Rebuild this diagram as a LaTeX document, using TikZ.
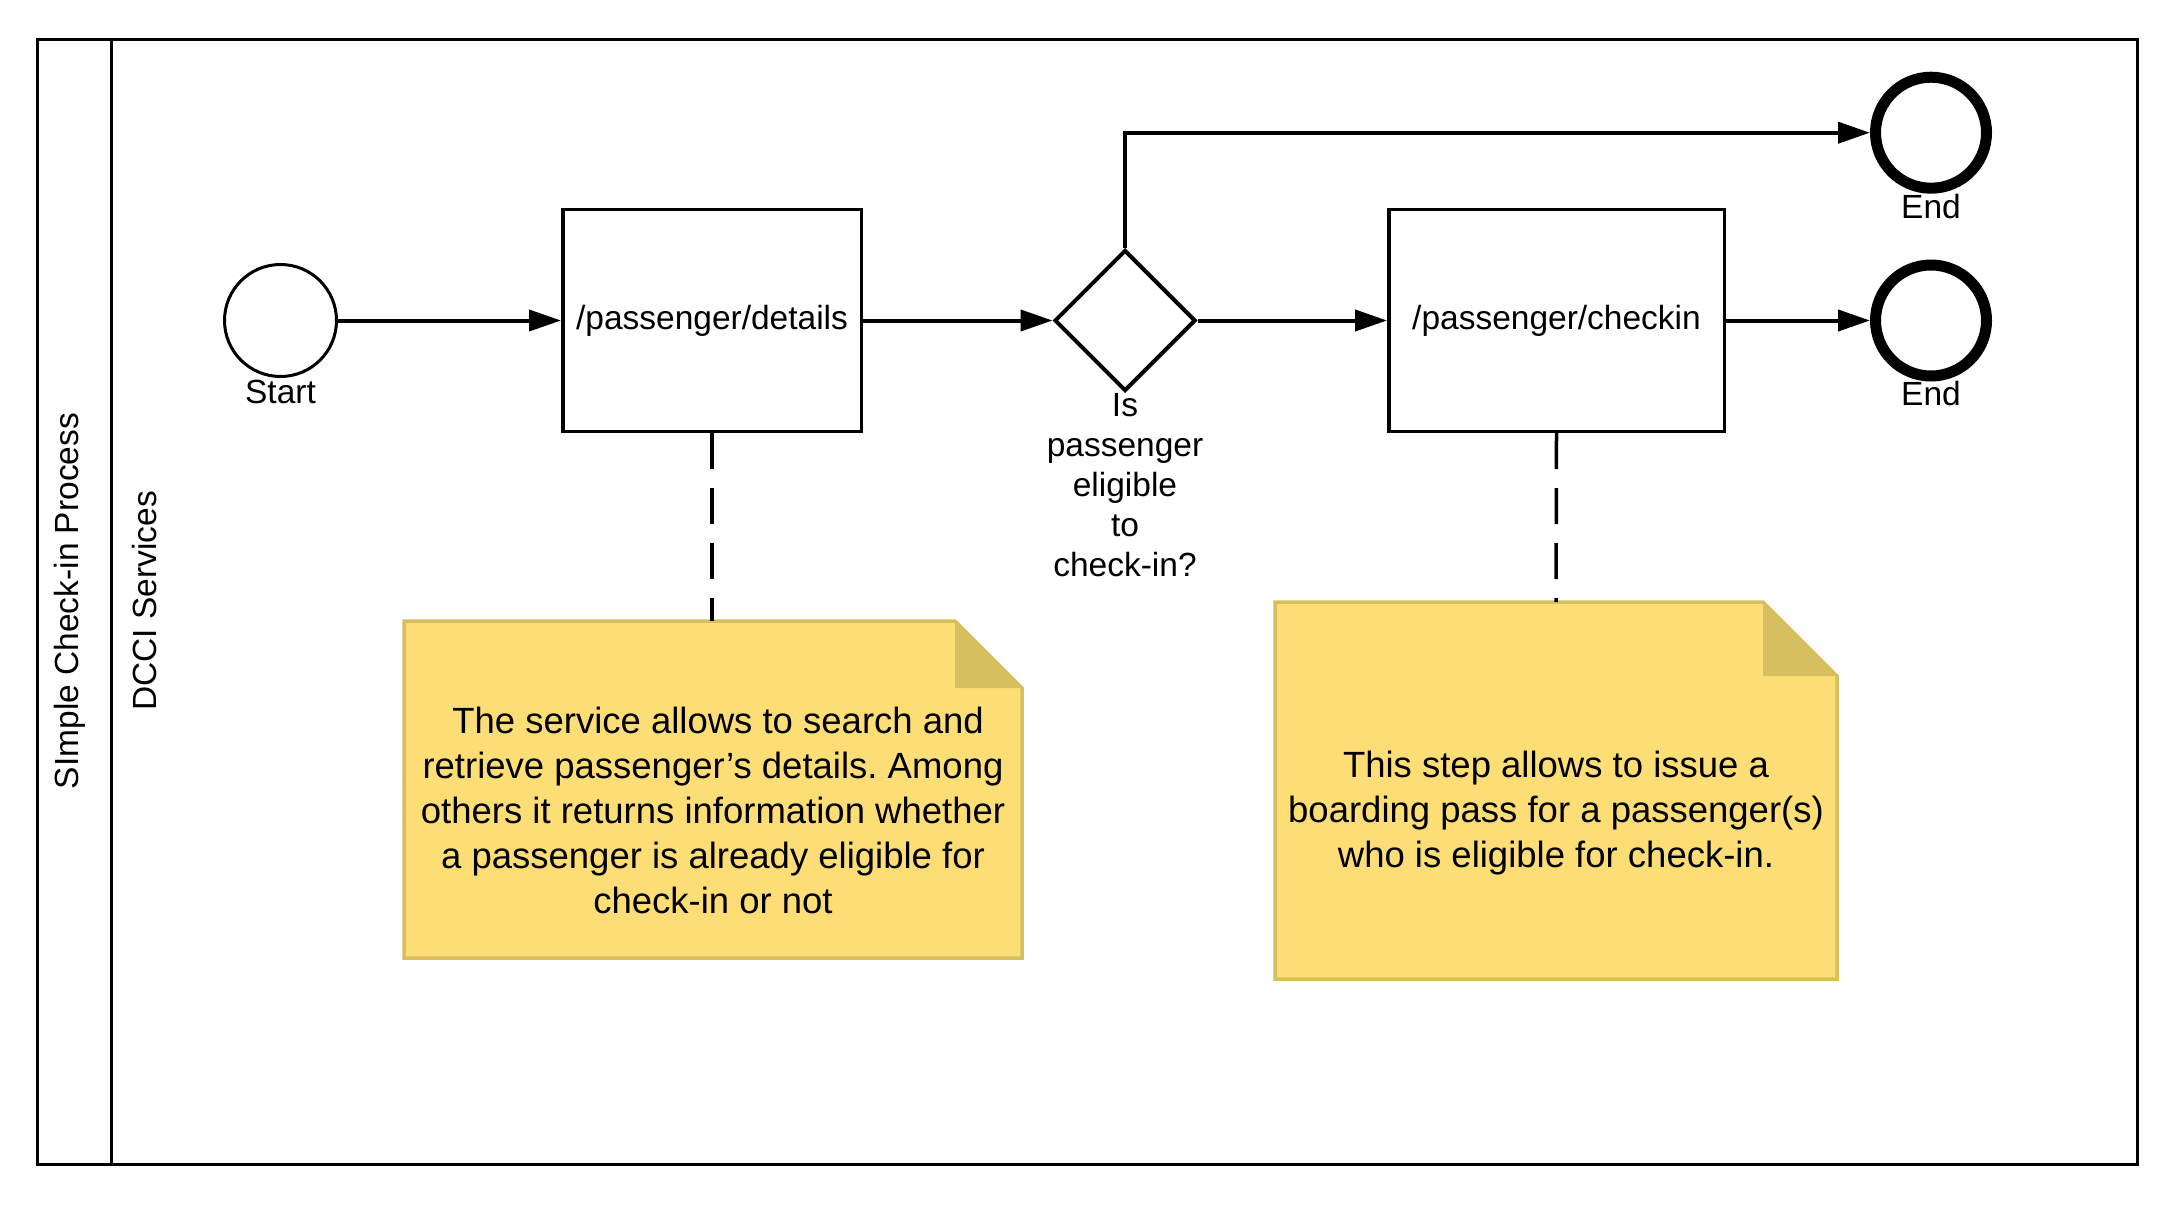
\documentclass[tikz,border=0pt]{standalone}
\usepackage{fontspec}
\setmainfont{Liberation Sans}
\frenchspacing
\usetikzlibrary{arrows.meta,shapes.geometric}
\definecolor{notefill}{HTML}{FDDE76}
\definecolor{noteedge}{HTML}{D7BF5F}

\begin{document}
\begin{tikzpicture}[
  x=1pt, y=-1pt,
  every node/.style={font=\fontsize{33.5pt}{40pt}\selectfont, inner sep=0pt},
  event/.style={draw, circle, minimum size=112pt, line width=3pt},
  endevent/.style={draw, circle, minimum size=111pt, line width=11pt},
  task/.style={draw, rectangle, line width=3.5pt, minimum height=221.5pt},
  gateway/.style={draw, diamond, aspect=1, minimum size=141pt, line width=4pt},
  flow/.style={line width=4pt, -{Triangle[length=32pt,width=21pt]}},
  assoc/.style={line width=3.5pt, dash pattern=on 36pt off 19pt},
  note/.style={fill=notefill, draw=noteedge, line width=3.5pt, line join=miter},
  notetext/.style={align=center, font=\fontsize{36.5pt}{45pt}\selectfont}
]
\useasboundingbox (0,0) rectangle (2183,1206);

% pool and lane
\draw[line width=3pt] (37.5,39.5) rectangle (2137,1164);
\draw[line width=3pt] (111.8,39.5) -- (111.8,1164);
\node[rotate=90] (pool) at (70,601) {SImple Check-in Process};
\node[rotate=90] (lane) at (145,601) {DCCI Services};

% events, tasks and gateway
\node[event] (start) at (280.5,320.5) {};
\node[anchor=north] (startlbl) at (280.5,380) {Start};
\node[task, minimum width=298.5pt] (details) at (712,320.5) {/passenger/details};
\node[gateway] (elig) at (1125,320.5) {};
\node[anchor=north, align=center] (eliglbl) at (1125,393) {Is\\passenger\\eligible\\to\\check-in?};
\node[task, minimum width=335.5pt] (checkin) at (1556.5,320.5) {/passenger/checkin};
\node[endevent] (endno) at (1931,132.7) {};
\node[anchor=north] (endnolbl) at (1931,194) {End};
\node[endevent] (endok) at (1931,320.5) {};
\node[anchor=north] (endoklbl) at (1931,381) {End};

% sequence flows
\draw[flow] (start) -- (details);
\draw[flow] (details) -- (elig);
\draw[flow] (elig) -- (checkin);
\draw[flow] (checkin) -- (endok);
\draw[flow] (elig.north) |- (endno.west);

% annotations
\coordinate (n1top) at (712,621);
\draw[note] (404,621) -- (955,621) -- (1022,688) -- (1022,958) -- (404,958) -- cycle;
\fill[noteedge] (955,621) -- (955,688) -- (1022,688) -- cycle;
\node[notetext] (n1text) at (713,810) {\ The service allows to search and\\retrieve passenger’s details. Among\\others it returns information whether\\a passenger is already eligible for\\check-in or not};

\coordinate (n2top) at (1556,602);
\draw[note] (1275,602) -- (1763,602) -- (1837,676) -- (1837,979) -- (1275,979) -- cycle;
\fill[noteedge] (1763,602) -- (1763,676) -- (1837,676) -- cycle;
\node[notetext] (n2text) at (1556,813) {This step allows to issue a\\boarding pass for a passenger(s)\\who is eligible for check-in.};

\draw[assoc] (details.south) -- (n1top);
\draw[assoc] (checkin.south) -- (n2top);
\end{tikzpicture}
\end{document}
